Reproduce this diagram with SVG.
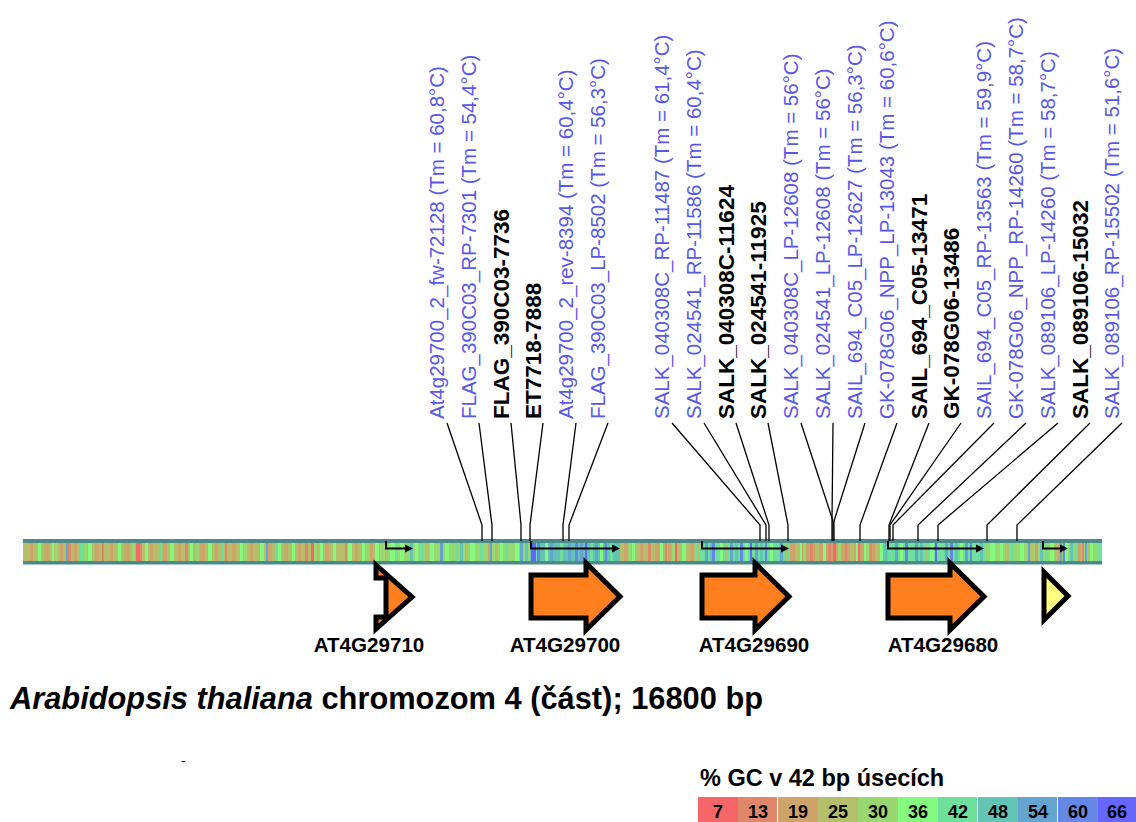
<svg xmlns="http://www.w3.org/2000/svg" width="1136" height="822" viewBox="0 0 1136 822">
<style>
.bl{font-family:"Liberation Sans",Arial,sans-serif;font-size:20.5px;fill:#5858e6}
.bk{font-family:"Liberation Sans",Arial,sans-serif;font-size:22.5px;font-weight:bold;fill:#000}
.gl{font-family:"Liberation Sans",Arial,sans-serif;font-size:20.6px;font-weight:bold;fill:#000;text-anchor:middle}
.ln{fill:none;stroke:#000;stroke-width:1.3}
.ta{fill:none;stroke:#000;stroke-width:2}
.ah{fill:#000}
.gene{fill:#ff7f1e;stroke:#000;stroke-width:5;stroke-linejoin:miter}
.st path{fill:none;stroke-width:18}
.lg{font-family:"Liberation Sans",Arial,sans-serif;font-size:18px;font-weight:bold;fill:#000;text-anchor:middle}
</style>
<rect width="1136" height="822" fill="#fff"/>

<!-- chromosome bar -->
<g id="chromosome">
<rect x="23" y="539" width="1079" height="25.5" fill="#4b8a89"/>
<rect x="23" y="543" width="357" height="18" fill="#b4be6b"/>
<rect x="380" y="543" width="150" height="18" fill="#99d870"/>
<rect x="530" y="543" width="90" height="18" fill="#63c3b4"/>
<rect x="620" y="543" width="80" height="18" fill="#b4be6b"/>
<rect x="700" y="543" width="90" height="18" fill="#6ee09c"/>
<rect x="790" y="543" width="98" height="18" fill="#cea46b"/>
<rect x="888" y="543" width="97" height="18" fill="#6ee09c"/>
<rect x="985" y="543" width="117" height="18" fill="#99d870"/>
<g class="st">
<path stroke="#f56767" d="M136 552h4M311 552h3M833 552h3M675 552h2M858 552h2"/>
<path stroke="#e0876b" d="M68 552h3M102 552h2M140 552h2M185 552h3M225 552h2M305 552h3M345 552h2M648 552h3M665 552h2M810 552h3M828 552h3M845 552h2M870 552h2M1082 552h2"/>
<path stroke="#cea46b" d="M30 552h3M45 552h4M60 552h3M74 552h3M95 552h4M110 552h3M125 552h5M150 552h3M163 552h4M178 552h3M200 552h5M215 552h3M232 552h4M250 552h3M268 552h4M285 552h3M298 552h3M325 552h4M355 552h3M370 552h3M488 552h3M624 552h4M640 552h3M655 552h5M668 552h3M690 552h4M1035 552h3M1058 552h2M1078 552h3"/>
<path stroke="#b4be6b" d="M385 552h3M425 552h4M465 552h3M495 552h3M725 552h2M785 552h3M795 552h5M815 552h4M850 552h4M875 552h5M925 552h2M1005 552h4M1030 552h3M1055 552h3M1088 552h3"/>
<path stroke="#99d870" d="M55 552h3M84 552h3M132 552h3M196 552h3M244 552h3M314 552h3M366 552h3M628 552h3M672 552h3M803 552h3M838 552h3M866 552h3M1094 552h4"/>
<path stroke="#86f97f" d="M38 552h3M52 552h2M88 552h4M118 552h3M145 552h3M170 552h4M190 552h3M208 552h4M240 552h3M260 552h4M278 552h3M292 552h3M320 552h3M333 552h3M348 552h4M362 552h3M375 552h4M390 552h5M400 552h4M415 552h3M430 552h4M445 552h4M470 552h5M500 552h3M515 552h4M545 552h3M600 552h3M632 552h3M660 552h3M682 552h4M720 552h3M745 552h3M770 552h3M800 552h2M823 552h3M856 552h2M864 552h2M880 552h3M900 552h3M930 552h4M960 552h3M990 552h5M1000 552h3M1020 552h4M1050 552h4M1065 552h3M1090 552h3"/>
<path stroke="#6ee09c" d="M80 552h3M160 552h2M222 552h2M275 552h3M395 552h3M420 552h3M455 552h3M480 552h3M505 552h3M535 552h3M560 552h3M590 552h3M610 552h3M695 552h3M910 552h3M940 552h3M975 552h3M1010 552h3M1045 552h3M1075 552h3M1098 552h3"/>
<path stroke="#63c3b4" d="M410 552h3M460 552h3M525 552h3M615 552h3M710 552h3M735 552h3M760 552h3M884 552h3M920 552h3M955 552h3M980 552h3M1040 552h3M1070 552h3"/>
<path stroke="#64a5cf" d="M66 552h2M266 552h2M440 552h3M490 552h2M520 552h3M550 552h3M568 552h3M580 552h3M595 552h3M705 552h3M730 552h3M755 552h3M780 552h3M895 552h3M915 552h3M945 552h3M965 552h3M1028 552h2M1060 552h2M1085 552h2"/>
<path stroke="#6587e6" d="M537 552h3M575 552h3M605 552h2M712 552h3M740 552h3M765 552h2M905 552h3M950 552h3M970 552h2M1063 552h2"/>
<path stroke="#6565ff" d="M531 552h5M585 552h2M750 552h2M935 552h2"/>
</g>
</g>

<!-- connectors -->
<g id="connectors">
<path class="ln" d="M447 423L482 525V541"/>
<path class="ln" d="M479 423L492 525V541"/>
<path class="ln" d="M511 423L521 525V541"/>
<path class="ln" d="M543 423L530 525V541"/>
<path class="ln" d="M576 423L563 525V541"/>
<path class="ln" d="M608 423L569 525V541"/>
<path class="ln" d="M672 423L760 525V541"/>
<path class="ln" d="M704 423L766 525V541"/>
<path class="ln" d="M736 423L769 525V541"/>
<path class="ln" d="M768 423L788 525V541"/>
<path class="ln" d="M801 423L833 521V541"/>
<path class="ln" d="M833 423L832 521V541"/>
<path class="ln" d="M865 423L834 521V541"/>
<path class="ln" d="M897 423L860 525V541"/>
<path class="ln" d="M929 423L889 525V541"/>
<path class="ln" d="M961 423L890 525V541"/>
<path class="ln" d="M994 423L893 525V541"/>
<path class="ln" d="M1026 423L918 525V541"/>
<path class="ln" d="M1058 423L938 525V541"/>
<path class="ln" d="M1090 423L987 525V541"/>
<path class="ln" d="M1122 423L1017 525V541"/>
</g>

<!-- transcription direction arrows -->
<g id="tss">
<path class="ta" d="M386 541V548.5H407"/><path class="ah" d="M405 544.5L413 548.5L405 552.5Z"/>
<path class="ta" d="M531 541V548.5H614"/><path class="ah" d="M612 544.5L620 548.5L612 552.5Z"/>
<path class="ta" d="M702 541V548.5H783"/><path class="ah" d="M781 544.5L789 548.5L781 552.5Z"/>
<path class="ta" d="M888 541V548.5H978"/><path class="ah" d="M976 544.5L984 548.5L976 552.5Z"/>
<path class="ta" d="M1043 541V548.5H1062"/><path class="ah" d="M1060 544.5L1068 548.5L1060 552.5Z"/>
</g>

<!-- genes -->
<g id="AT4G29710">
<polygon class="gene" points="386,578 376,578 376,565 412,597 376,629 376,617 386,617"/>
<text class="gl" x="369" y="652">AT4G29710</text>
</g>
<g id="AT4G29700">
<polygon class="gene" points="531,575 586,575 586,563 620,596.5 586,630 586,618 531,618"/>
<text class="gl" x="565" y="652">AT4G29700</text>
</g>
<g id="AT4G29690">
<polygon class="gene" points="702,575 755,575 755,563 789,596.5 755,630 755,618 702,618"/>
<text class="gl" x="754" y="652">AT4G29690</text>
</g>
<g id="AT4G29680">
<polygon class="gene" points="888,575 950,575 950,563 984,596.5 950,630 950,618 888,618"/>
<text class="gl" x="943" y="652">AT4G29680</text>
</g>
<g id="gene5">
<polygon class="gene" style="fill:#ffff80" points="1044,572 1068,596 1044,620"/>
</g>

<!-- labels -->
<g id="labels">
<g id="l1"><text class="bl" transform="translate(444,419) rotate(-90)">At4g29700_2_fw-72128 (Tm = 60,8°C)</text></g>
<g id="l2"><text class="bl" transform="translate(476,419) rotate(-90)">FLAG_390C03_RP-7301 (Tm = 54,4°C)</text></g>
<g id="l3"><text class="bk" transform="translate(509,419) rotate(-90)">FLAG_390C03-7736</text></g>
<g id="l4"><text class="bk" transform="translate(541,419) rotate(-90)">ET7718-7888</text></g>
<g id="l5"><text class="bl" transform="translate(573,419) rotate(-90)">At4g29700_2_rev-8394 (Tm = 60,4°C)</text></g>
<g id="l6"><text class="bl" transform="translate(605,419) rotate(-90)">FLAG_390C03_LP-8502 (Tm = 56,3°C)</text></g>
<g id="l7"><text class="bl" transform="translate(669,419) rotate(-90)">SALK_040308C_RP-11487 (Tm = 61,4°C)</text></g>
<g id="l8"><text class="bl" transform="translate(701,419) rotate(-90)">SALK_024541_RP-11586 (Tm = 60,4°C)</text></g>
<g id="l9"><text class="bk" transform="translate(734,419) rotate(-90)">SALK_040308C-11624</text></g>
<g id="l10"><text class="bk" transform="translate(766,419) rotate(-90)">SALK_024541-11925</text></g>
<g id="l11"><text class="bl" transform="translate(798,419) rotate(-90)">SALK_040308C_LP-12608 (Tm = 56°C)</text></g>
<g id="l12"><text class="bl" transform="translate(830,419) rotate(-90)">SALK_024541_LP-12608 (Tm = 56°C)</text></g>
<g id="l13"><text class="bl" transform="translate(862,419) rotate(-90)">SAIL_694_C05_LP-12627 (Tm = 56,3°C)</text></g>
<g id="l14"><text class="bl" transform="translate(894,419) rotate(-90)">GK-078G06_NPP_LP-13043 (Tm = 60,6°C)</text></g>
<g id="l15"><text class="bk" transform="translate(927,419) rotate(-90)">SAIL_694_C05-13471</text></g>
<g id="l16"><text class="bk" transform="translate(959,419) rotate(-90)">GK-078G06-13486</text></g>
<g id="l17"><text class="bl" transform="translate(991,419) rotate(-90)">SAIL_694_C05_RP-13563 (Tm = 59,9°C)</text></g>
<g id="l18"><text class="bl" transform="translate(1023,419) rotate(-90)">GK-078G06_NPP_RP-14260 (Tm = 58,7°C)</text></g>
<g id="l19"><text class="bl" transform="translate(1055,419) rotate(-90)">SALK_089106_LP-14260 (Tm = 58,7°C)</text></g>
<g id="l20"><text class="bk" transform="translate(1088,419) rotate(-90)">SALK_089106-15032</text></g>
<g id="l21"><text class="bl" transform="translate(1119,419) rotate(-90)">SALK_089106_RP-15502 (Tm = 51,6°C)</text></g>
</g>

<!-- title -->
<g id="title">
<text x="10" y="709" style="font-family:'Liberation Sans',Arial,sans-serif;font-size:30.8px;font-weight:bold;fill:#000"><tspan font-style="italic">Arabidopsis thaliana</tspan> chromozom 4 (část); 16800 bp</text>
<text x="181" y="766" style="font-family:'Liberation Sans',Arial,sans-serif;font-size:14px;fill:#000">-</text>
</g>

<!-- legend -->
<g id="legend">
<text x="700" y="786" style="font-family:'Liberation Sans',Arial,sans-serif;font-size:23.5px;font-weight:bold;fill:#000">% GC v 42 bp úsecích</text>
<rect x="698" y="797" width="40" height="25" fill="#f56767"/>
<rect x="738" y="797" width="40" height="25" fill="#e0876b"/>
<rect x="778" y="797" width="40" height="25" fill="#cea46b"/>
<rect x="818" y="797" width="40" height="25" fill="#b4be6b"/>
<rect x="858" y="797" width="40" height="25" fill="#99d870"/>
<rect x="898" y="797" width="40" height="25" fill="#86f97f"/>
<rect x="938" y="797" width="40" height="25" fill="#6ee09c"/>
<rect x="978" y="797" width="40" height="25" fill="#63c3b4"/>
<rect x="1018" y="797" width="40" height="25" fill="#64a5cf"/>
<rect x="1058" y="797" width="40" height="25" fill="#6587e6"/>
<rect x="1098" y="797" width="38" height="25" fill="#6565ff"/>
<path d="M777.5 797V822M977.5 797V822M1057.5 797V822" stroke="#fff" stroke-width="1"/>
<text class="lg" x="718" y="818">7</text>
<text class="lg" x="758" y="818">13</text>
<text class="lg" x="798" y="818">19</text>
<text class="lg" x="838" y="818">25</text>
<text class="lg" x="878" y="818">30</text>
<text class="lg" x="918" y="818">36</text>
<text class="lg" x="958" y="818">42</text>
<text class="lg" x="998" y="818">48</text>
<text class="lg" x="1038" y="818">54</text>
<text class="lg" x="1078" y="818">60</text>
<text class="lg" x="1117" y="818">66</text>
</g>
</svg>
